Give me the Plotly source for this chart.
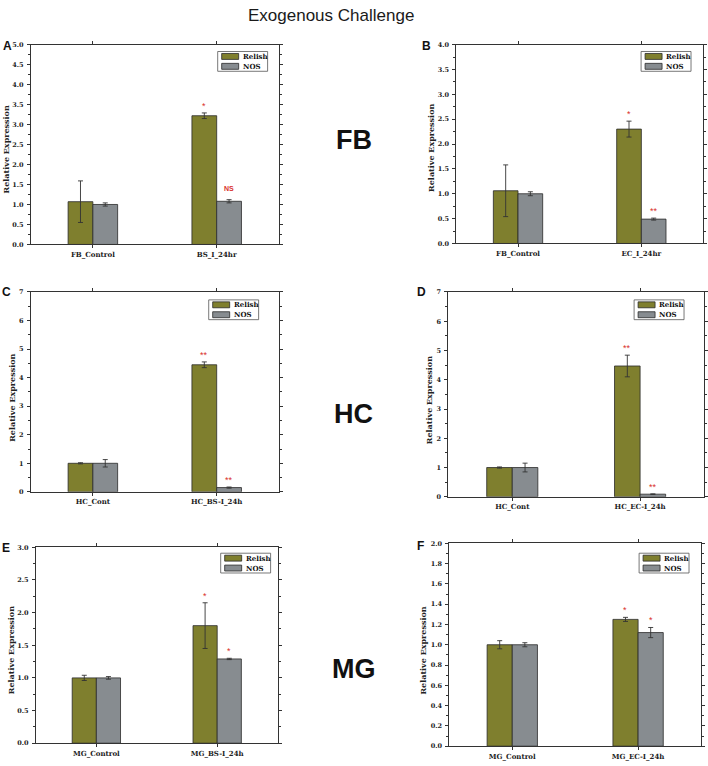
import plotly.graph_objects as go

# ---------------- data ----------------
series_names = ["Relish", "NOS"]

A_cats = ["FB_Control", "BS_I_24hr"]
A_relish = [1.07, 3.22]
A_relish_err = [0.52, 0.07]
A_nos = [1.00, 1.08]
A_nos_err = [0.04, 0.04]
A_sig_relish = ["", "*"]
A_sig_nos = ["", "NS"]

B_cats = ["FB_Control", "EC_I_24hr"]
B_relish = [1.06, 2.30]
B_relish_err = [0.52, 0.16]
B_nos = [1.00, 0.49]
B_nos_err = [0.04, 0.02]
B_sig_relish = ["", "*"]
B_sig_nos = ["", "**"]

C_cats = ["HC_Cont", "HC_BS-I_24h"]
C_relish = [1.00, 4.45]
C_relish_err = [0.02, 0.10]
C_nos = [1.00, 0.15]
C_nos_err = [0.13, 0.02]
C_sig_relish = ["", "**"]
C_sig_nos = ["", "**"]

D_cats = ["HC_Cont", "HC_EC-I_24h"]
D_relish = [1.00, 4.47]
D_relish_err = [0.02, 0.37]
D_nos = [1.00, 0.09]
D_nos_err = [0.15, 0.01]
D_sig_relish = ["", "**"]
D_sig_nos = ["", "**"]

E_cats = ["MG_Control", "MG_BS-I_24h"]
E_relish = [1.00, 1.80]
E_relish_err = [0.04, 0.35]
E_nos = [1.00, 1.29]
E_nos_err = [0.02, 0.01]
E_sig_relish = ["", "*"]
E_sig_nos = ["", "*"]

F_cats = ["MG_Control", "MG_EC-I_24h"]
F_relish = [1.00, 1.25]
F_relish_err = [0.04, 0.02]
F_nos = [1.00, 1.12]
F_nos_err = [0.02, 0.05]
F_sig_relish = ["", "*"]
F_sig_nos = ["", "*"]

row_labels = ["FB", "HC", "MG"]
panel_letters = ["A", "B", "C", "D", "E", "F"]
title_text = "Exogenous Challenge"
y_title = "Relative Expression"

# ---------------- layout constants ----------------
W, H = 708, 766
RELISH_COLOR = "#7f7f2e"
NOS_COLOR = "#878c90"
EDGE = "#2a2a2a"
SERIF = "DejaVu Serif"
series_colors = [RELISH_COLOR, NOS_COLOR]

def fx(px):
    return px / W

def fy(px):
    return 1 - px / H

panels = [
    dict(c=A_cats, r=A_relish, re=A_relish_err, n=A_nos, ne=A_nos_err, sr=A_sig_relish, sn=A_sig_nos,
         box=(31, 279, 41, 243), ymax=5.0, dtick=0.5, fmt=".1f", letter=(8, 42), ytitle=(6, 147),
         leg=(268, 48)),
    dict(c=B_cats, r=B_relish, re=B_relish_err, n=B_nos, ne=B_nos_err, sr=B_sig_relish, sn=B_sig_nos,
         box=(457, 704, 41, 242), ymax=4.0, dtick=0.5, fmt=".1f", letter=(427, 42), ytitle=(432, 145),
         leg=(692, 48)),
    dict(c=C_cats, r=C_relish, re=C_relish_err, n=C_nos, ne=C_nos_err, sr=C_sig_relish, sn=C_sig_nos,
         box=(31, 279, 291, 493), ymax=7.0, dtick=1, fmt="d", letter=(7, 291), ytitle=(12, 398),
         leg=(259, 299)),
    dict(c=D_cats, r=D_relish, re=D_relish_err, n=D_nos, ne=D_nos_err, sr=D_sig_relish, sn=D_sig_nos,
         box=(449, 705, 291, 498), ymax=7.0, dtick=1, fmt="d", letter=(422, 291), ytitle=(429, 400),
         leg=(685, 299)),
    dict(c=E_cats, r=E_relish, re=E_relish_err, n=E_nos, ne=E_nos_err, sr=E_sig_relish, sn=E_sig_nos,
         box=(36, 278, 549, 747), ymax=3.0, dtick=0.5, fmt=".1f", letter=(6, 550), ytitle=(11, 653),
         leg=(271, 555)),
    dict(c=F_cats, r=F_relish, re=F_relish_err, n=F_nos, ne=F_nos_err, sr=F_sig_relish, sn=F_sig_nos,
         box=(450, 702, 545, 750), ymax=2.0, dtick=0.2, fmt=".1f", letter=(421, 548), ytitle=(424, 653),
         leg=(690, 555)),
]

fig = go.Figure()
annotations = []
shapes = []
layout_extra = {}

for i, p in enumerate(panels):
    k = "" if i == 0 else str(i + 1)
    xa, ya = "x" + k, "y" + k
    x0, x1, yt, yb = p["box"]
    fig.add_trace(go.Bar(
        x=p["c"], y=p["r"], name=series_names[0], xaxis=xa, yaxis=ya, showlegend=False,
        marker=dict(color=RELISH_COLOR, line=dict(color=EDGE, width=0.8)),
        error_y=dict(type="data", array=p["re"], visible=True, color="#333333", thickness=0.9, width=2.5),
        offsetgroup="r",
    ))
    fig.add_trace(go.Bar(
        x=p["c"], y=p["n"], name=series_names[1], xaxis=xa, yaxis=ya, showlegend=False,
        marker=dict(color=NOS_COLOR, line=dict(color=EDGE, width=0.8)),
        error_y=dict(type="data", array=p["ne"], visible=True, color="#333333", thickness=0.9, width=2.5),
        offsetgroup="n",
    ))
    cat_px = (x1 - x0) / 2.0
    shift = 0.1 * cat_px
    for j, cat in enumerate(p["c"]):
        for vals, errs, sig, sgn in ((p["r"], p["re"], p["sr"], -1), (p["n"], p["ne"], p["sn"], 1)):
            if sig[j]:
                is_ns = sig[j] == "NS"
                annotations.append(dict(
                    x=cat, y=vals[j] + errs[j], xref=xa, yref=ya, text=sig[j], showarrow=False,
                    xanchor="center", yanchor="middle",
                    xshift=sgn * shift, yshift=11 if is_ns else 7,
                    font=dict(color="#d9302c", size=7 if is_ns else 9, family="Liberation Sans",
                              weight="bold" if is_ns else "normal"),
                ))
    # axes
    layout_extra["xaxis" + k] = dict(
        domain=[fx(x0), fx(x1)], anchor=ya, type="category", range=[-0.5, 1.5],
        showline=True, linecolor="#333333", linewidth=1, mirror="ticks",
        ticks="outside", ticklen=3, tickcolor="#333333",
        tickfont=dict(family=SERIF, size=7, color="#222222", weight="bold"),
        showgrid=False, zeroline=False, fixedrange=True,
    )
    layout_extra["yaxis" + k] = dict(
        domain=[fy(yb), fy(yt)], anchor=xa, range=[0, p["ymax"]], dtick=p["dtick"],
        tickformat=p["fmt"], showline=True, linecolor="#333333", linewidth=1, mirror="ticks",
        ticks="outside", ticklen=3, tickcolor="#333333",
        minor=dict(ticks="outside", ticklen=2, dtick=p["dtick"] / 2, tickcolor="#333333"),
        tickfont=dict(family=SERIF, size=6.5, color="#222222", weight="bold"),
        showgrid=False, zeroline=False, fixedrange=True, ticklabelstandoff=2,
    )
    # compact legend box (drawn)
    lx, ly = p["leg"]
    bx0, bx1, by0, by1 = lx - 50, lx, ly, ly + 20
    shapes.append(dict(type="rect", xref="paper", yref="paper",
                       x0=fx(bx0), x1=fx(bx1), y0=fy(by1), y1=fy(by0),
                       line=dict(color="#555555", width=0.8), fillcolor="white", layer="above"))
    for s, (nm, col) in enumerate(zip(series_names, series_colors)):
        cy = by0 + 5 + 10 * s
        shapes.append(dict(type="rect", xref="paper", yref="paper",
                           x0=fx(bx0 + 4), x1=fx(bx0 + 21), y0=fy(cy + 3), y1=fy(cy - 3),
                           line=dict(color=EDGE, width=0.8), fillcolor=col, layer="above"))
        annotations.append(dict(
            x=fx(bx0 + 23), y=fy(cy), xref="paper", yref="paper", text=nm, showarrow=False,
            xanchor="left", yanchor="middle",
            font=dict(family=SERIF, size=7, color="#111111", weight="bold"),
        ))
    # y title
    tx, ty = p["ytitle"]
    annotations.append(dict(
        x=fx(tx), y=fy(ty), xref="paper", yref="paper", text=y_title, textangle=-90,
        xanchor="center", yanchor="middle",
        showarrow=False, font=dict(family=SERIF, size=8, color="#222222", weight="bold"),
    ))
    # panel letter
    lx2, ly2 = p["letter"]
    annotations.append(dict(
        x=fx(lx2), y=fy(ly2), xref="paper", yref="paper", text=panel_letters[i],
        xanchor="center", yanchor="middle",
        showarrow=False, font=dict(family="Liberation Sans", size=12, color="#111111", weight="bold"),
    ))

# row labels
for lab, ypx in zip(row_labels, [137, 414, 672]):
    annotations.append(dict(
        x=fx(354), y=fy(ypx), xref="paper", yref="paper", text=lab, showarrow=False,
        xanchor="center", yanchor="middle",
        font=dict(family="Liberation Sans", size=27, color="#111111", weight="bold"),
    ))

# main title
annotations.append(dict(
    x=fx(331), y=fy(12), xref="paper", yref="paper", text=title_text, showarrow=False,
    xanchor="center", yanchor="middle",
    font=dict(family="Liberation Sans", size=17, color="#1a1a1a"),
))

fig.update_layout(
    width=W, height=H, margin=dict(l=0, r=0, t=0, b=0),
    paper_bgcolor="white", plot_bgcolor="white",
    barmode="group", bargap=0.6, bargroupgap=0,
    annotations=annotations, shapes=shapes, showlegend=False,
    **layout_extra,
)

fig.write_html("out.html", config={"displayModeBar": False},
               post_script="document.body.style.margin='0px';document.body.style.overflow='hidden';")
